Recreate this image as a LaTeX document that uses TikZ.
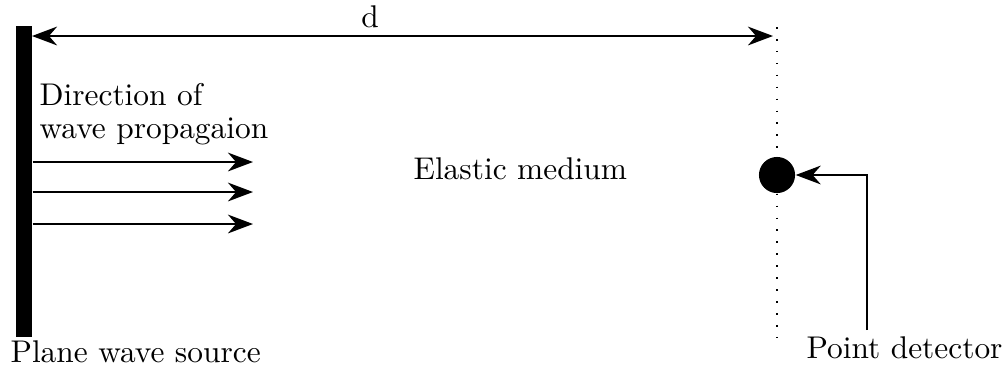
\documentclass[tikz,border=0pt]{standalone}
\usetikzlibrary{arrows.meta}
\tikzset{
  px/.style={x=0.3185pt,y=-0.3185pt},
  arr/.style={line width=0.5pt,-{Stealth[length=8pt,width=6pt,inset=2.6pt]}},
  darr/.style={line width=0.5pt,{Stealth[length=8pt,width=6pt,inset=2.6pt]}-{Stealth[length=8pt,width=6pt,inset=2.6pt]}},
  lbl/.style={inner sep=0pt,anchor=base west},
}
\begin{document}
\begin{tikzpicture}[px]
\useasboundingbox (0,0) rectangle (1005,372);
% source bar
\node[fill=black,inner sep=0pt,minimum width=5.1pt,minimum height=99.05pt] (src) at (24,181.5) {};
% detector
\node[circle,fill=black,inner sep=0pt,minimum size=11.5pt] (det) at (777,175) {};
% dotted line
\coordinate (dtop) at (777,27);
\coordinate (dbot) at (777,342);
\draw[line width=0.5pt,dash pattern=on 0.5pt off 3.3pt] (dtop) -- (det.north);
\draw[line width=0.5pt,dash pattern=on 0.5pt off 3.3pt] (det.south) -- (dbot);
% distance arrow
\coordinate (dl) at (32,36);
\coordinate (dr) at (773,36);
\draw[darr] (dl) -- (dr);
\node[inner sep=0pt,anchor=base] (dlab) at (370,27) {d};
% propagation arrows
\coordinate (a1) at (253,162);
\coordinate (a2) at (253,192);
\coordinate (a3) at (253,224);
\draw[arr] (src.east |- a1) -- (a1);
\draw[arr] (src.east |- a2) -- (a2);
\draw[arr] (src.east |- a3) -- (a3);
% labels
\node[lbl] (dir1) at (39,105) {Direction of};
\node[lbl] (dir2) at (39,138) {wave propagaion};
\node[lbl] (med) at (413,179) {Elastic medium};
\node[lbl] (srclab) at (10,362) {Plane wave source};
\node[lbl] (detlab) at (806,358) {Point detector};
% detector pointer
\coordinate (pstart) at (867,330);
\draw[arr] (pstart) |- (det.east);
\end{tikzpicture}
\end{document}
